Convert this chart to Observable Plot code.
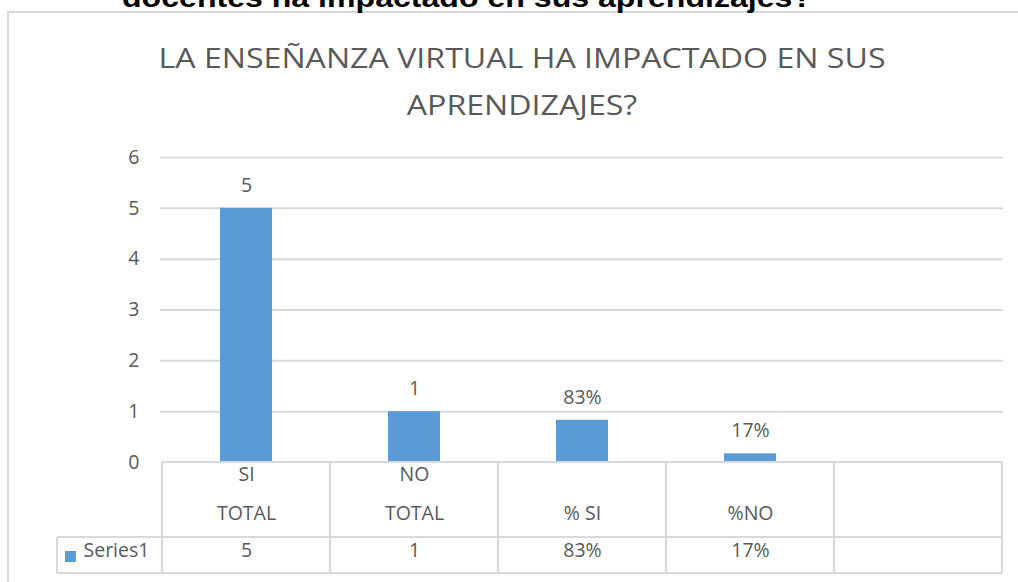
<!DOCTYPE html>
<html>
<head>
<meta charset="utf-8">
<script src="https://cdn.jsdelivr.net/npm/d3@7"></script>
<script src="https://cdn.jsdelivr.net/npm/@observablehq/plot@0.6"></script>
<style>
  body { margin: 0; background: #fff; }
  #wrap { position: relative; width: 1018px; height: 582px; overflow: hidden; background: #fff; }
  #wrap svg.main { position: absolute; left: 0; top: 0; }
  .title { position: absolute; left: 0; width: 1044px; text-align: center; font-family: "Open Sans", sans-serif; font-size: 27px; color: #595959; line-height: 1; white-space: nowrap; transform: scaleX(1.19); transform-origin: 522px 50%; }
</style>
</head>
<body>
<div id="wrap"></div>
<script>
// ---- data ----
const pageHeading = "docentes ha impactado en sus aprendizajes?";
const titleLines = ["LA ENSEÑANZA VIRTUAL HA IMPACTADO EN SUS", "APRENDIZAJES?"];
const categories = ["SI TOTAL", "NO TOTAL", "% SI", "%NO", " "];
const values = [5, 1, 0.83, 0.17];
const valueLabels = ["5", "1", "83%", "17%"];
const headerTop = ["SI", "NO", "", "", ""];
const headerBottom = ["TOTAL", "TOTAL", "% SI", "%NO", ""];
const tableValues = ["5", "1", "83%", "17%", ""];
const seriesName = "Series1";
const yTicks = [0, 1, 2, 3, 4, 5, 6];

// ---- styles ----
const textColor = "#595959";
const gridColor = "#d9d9d9";
const barColor = "#5b9bd5";
const font = "'Open Sans', sans-serif";
const fs = 19.5;

const data = values.map((v, i) => ({cat: categories[i], v, label: valueLabels[i]}));
const cells = categories.map((c, i) => ({cat: c, top: headerTop[i], bottom: headerBottom[i], val: tableValues[i]}));

const chart = Plot.plot({
  width: 1018,
  height: 582,
  marginLeft: 160,
  marginRight: 15,
  marginTop: 157,
  marginBottom: 120,
  x: {domain: categories, padding: 0, axis: null},
  y: {domain: [0, 6], axis: null, label: null},
  style: {fontFamily: font, background: "transparent", overflow: "visible"},
  marks: [
    Plot.gridY(yTicks.filter(d => d > 0), {stroke: gridColor, strokeOpacity: 1, strokeWidth: 2}),
    Plot.axisY(yTicks, {tickSize: 0, tickPadding: 21, tickFormat: d3.format("d"), label: null, fontSize: fs, fill: textColor}),
    Plot.barY(data, {x: "cat", y: "v", fill: barColor, insetLeft: 58, insetRight: 58}),
    Plot.text(data, {x: "cat", y: "v", text: "label", dy: -23, fontSize: fs, fill: textColor}),
    Plot.text(cells, {x: "cat", text: "top", frameAnchor: "bottom", dy: 18, fontSize: fs, fill: textColor}),
    Plot.text(cells, {x: "cat", text: "bottom", frameAnchor: "bottom", dy: 57, fontSize: fs, fill: textColor}),
    Plot.text(cells, {x: "cat", text: "val", frameAnchor: "bottom", dy: 94, fontSize: fs, fill: textColor}),
    Plot.text([seriesName], {text: d => d, frameAnchor: "bottom-left", dx: -77, dy: 94, textAnchor: "start", fontSize: fs, fill: textColor})
  ]
});
chart.classList.add("main");

// ---- table lines, legend key, border, cut heading (using Plot's scales) ----
const svg = d3.select(chart);
const xs = chart.scale("x");
const ys = chart.scale("y");
const y0 = ys.apply(0);
const bw = xs.bandwidth;
const left = xs.apply(categories[0]);
const right = xs.apply(categories[categories.length - 1]) + bw;
const rowMid = y0 + 75;
const rowBot = y0 + 111;
const tableLeft = left - 105;
const g = svg.append("g").attr("stroke", gridColor).attr("stroke-width", 2).attr("fill", "none");
g.append("line").attr("x1", left).attr("x2", right).attr("y1", y0).attr("y2", y0);
g.append("line").attr("x1", tableLeft).attr("x2", right).attr("y1", rowMid).attr("y2", rowMid);
g.append("line").attr("x1", tableLeft).attr("x2", right).attr("y1", rowBot).attr("y2", rowBot);
categories.forEach(c => {
  g.append("line").attr("x1", xs.apply(c)).attr("x2", xs.apply(c)).attr("y1", y0).attr("y2", rowBot);
});
g.append("line").attr("x1", right).attr("x2", right).attr("y1", y0).attr("y2", rowBot);
g.append("line").attr("x1", tableLeft).attr("x2", tableLeft).attr("y1", rowMid).attr("y2", rowBot);
// legend key
svg.append("rect").attr("x", tableLeft + 8).attr("y", y0 + 89).attr("width", 11).attr("height", 11).attr("fill", barColor);
// outer chart border
svg.append("rect").attr("x", 8).attr("y", 12).attr("width", 1040).attr("height", 620)
  .attr("fill", "none").attr("stroke", gridColor).attr("stroke-width", 2);
// cut-off heading at the very top
svg.append("text").attr("x", 122).attr("y", 7).attr("text-anchor", "start")
  .attr("textLength", 690).attr("lengthAdjust", "spacingAndGlyphs")
  .attr("font-family", "'Liberation Sans', Arial, sans-serif").attr("font-weight", "bold").attr("font-size", 28)
  .attr("fill", "#000").text(pageHeading);

const wrap = document.getElementById("wrap");
wrap.appendChild(chart);
titleLines.forEach((t, i) => {
  const d = document.createElement("div");
  d.className = "title";
  d.style.top = (44 + i * 47) + "px";
  d.textContent = t;
  wrap.appendChild(d);
});
</script>
</body>
</html>
